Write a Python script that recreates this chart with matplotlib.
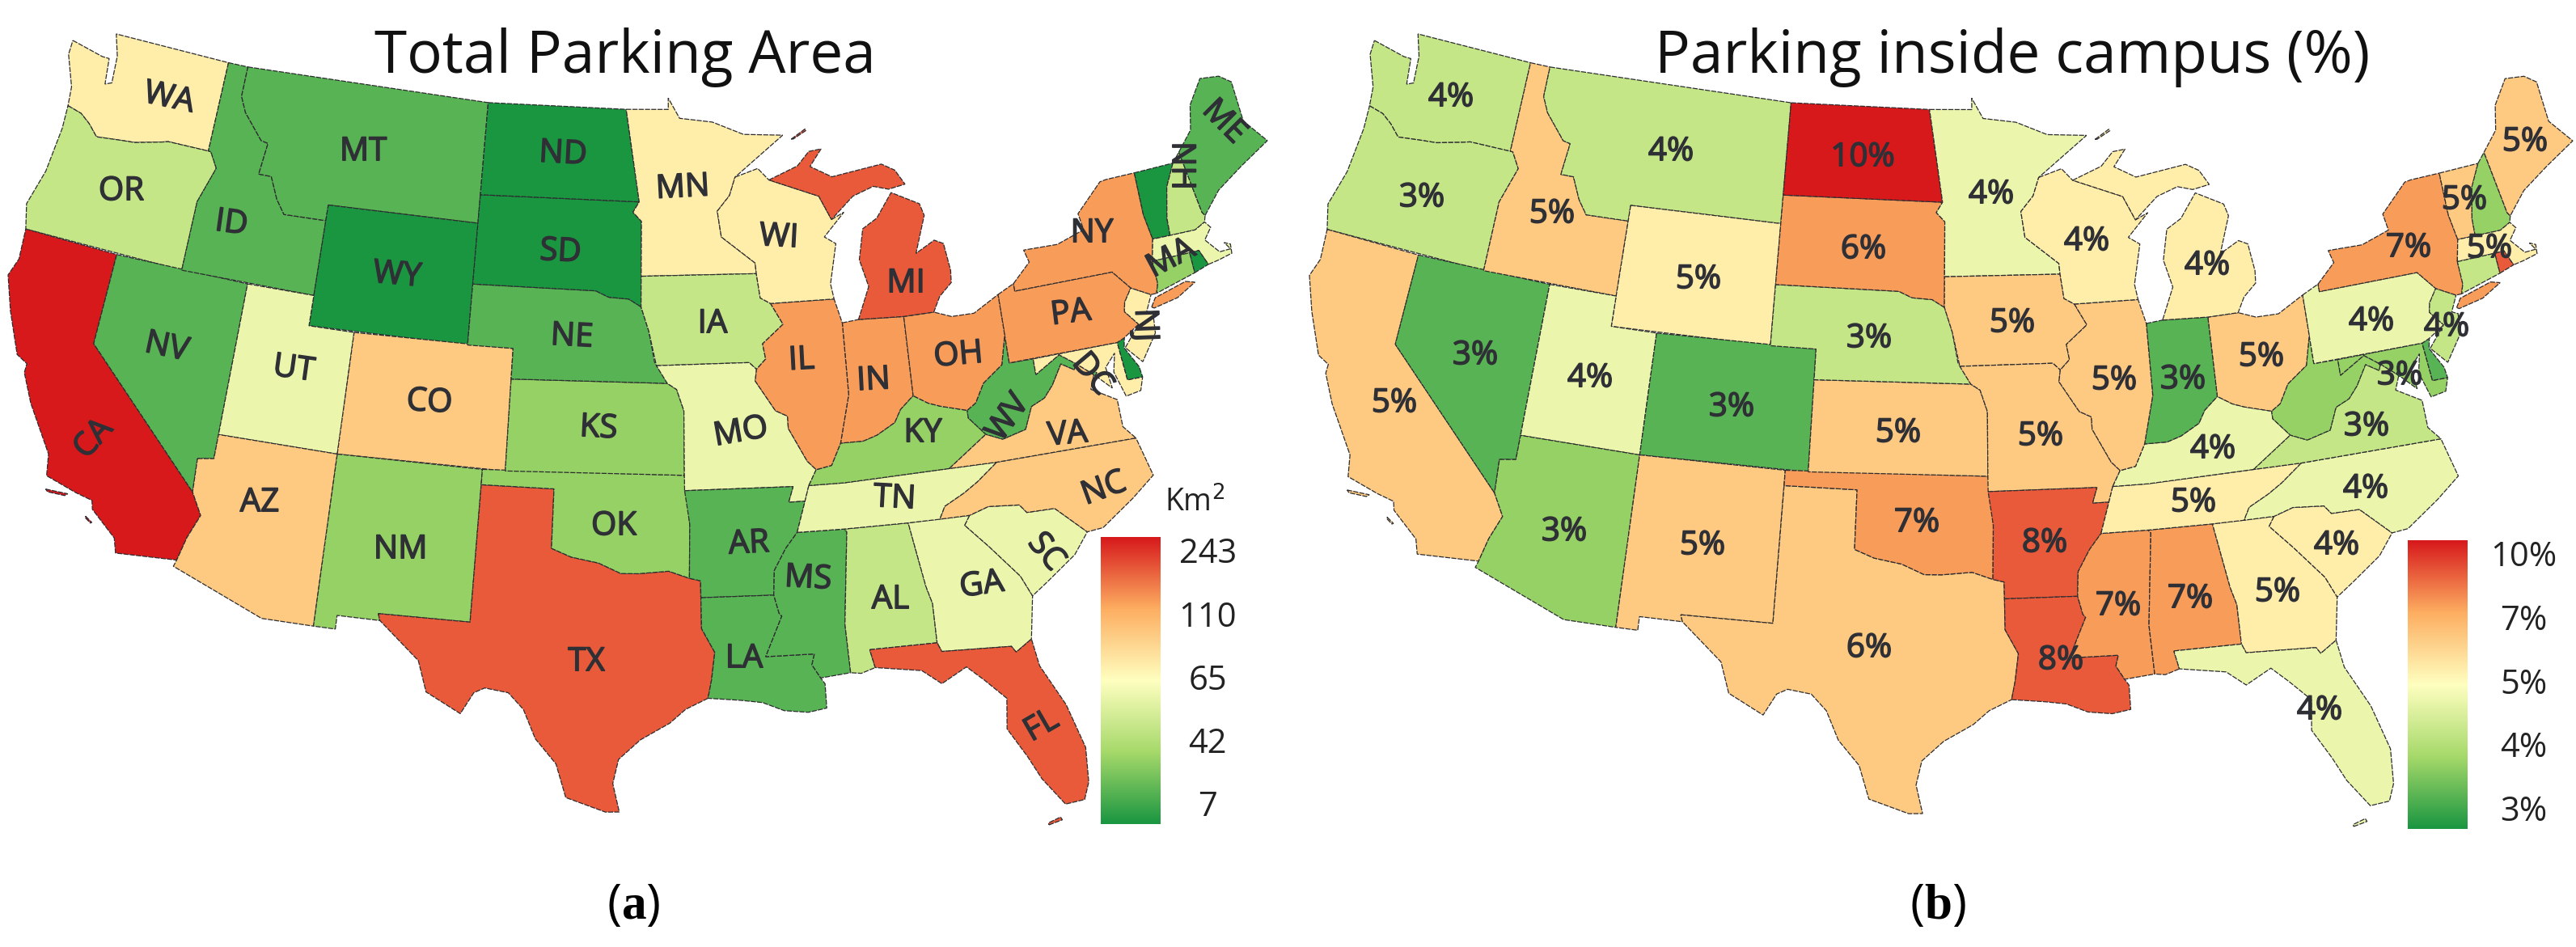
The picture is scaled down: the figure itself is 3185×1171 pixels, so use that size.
import numpy as np
import matplotlib
matplotlib.use('Agg')
import matplotlib.pyplot as plt
import matplotlib.patheffects as pe
from matplotlib.colors import LinearSegmentedColormap

plt.rcParams['font.family'] = ['Open Sans', 'DejaVu Sans']
plt.rcParams['mathtext.fontset'] = 'custom'
plt.rcParams['mathtext.rm'] = 'Liberation Serif'
plt.rcParams['mathtext.bf'] = 'Liberation Serif:bold'

W, H = 3185, 1171

# state outlines, lon/lat (simplified)
STATE_SHAPES = {
    'WA': [[(-124.7,48.38),(-123.1,48.15),(-122.75,48.15),(-122.6,47.3),(-122.3,47.4),(-122.4,48.3),(-122.75,49.0),(-117.03,49.0),(-117.04,46.0),(-118.98,46.0),(-119.3,45.93),(-120.5,45.7),(-121.2,45.65),(-122.3,45.55),(-122.8,45.9),(-123.3,46.15),(-124.0,46.27),(-124.1,46.9),(-124.7,47.9)]],
    'OR': [[(-124.0,46.27),(-123.3,46.15),(-122.8,45.9),(-122.3,45.55),(-121.2,45.65),(-120.5,45.7),(-119.3,45.93),(-118.98,46.0),(-116.92,46.0),(-116.5,45.5),(-117.03,44.3),(-117.03,42.0),(-124.2,42.0),(-124.5,42.8),(-124.1,44.0),(-123.95,45.5)]],
    'CA': [[(-124.2,42.0),(-120.0,42.0),(-120.0,39.0),(-114.63,35.0),(-114.13,34.3),(-114.5,33.5),(-114.72,32.72),(-117.12,32.53),(-117.3,33.0),(-118.4,33.75),(-118.5,34.03),(-119.2,34.15),(-120.5,34.45),(-120.65,35.15),(-121.9,36.6),(-122.5,37.5),(-122.5,37.8),(-123.0,38.0),(-123.8,39.3),(-124.35,40.4),(-124.1,41.0)],
           [(-120.4,34.02),(-119.5,34.05),(-119.6,33.97),(-120.3,33.95)],
           [(-118.6,33.48),(-118.3,33.33),(-118.35,33.3),(-118.6,33.43)]],
    'NV': [[(-120.0,42.0),(-114.04,42.0),(-114.04,36.2),(-114.7,36.1),(-114.63,35.0),(-120.0,39.0)]],
    'ID': [[(-117.03,49.0),(-116.05,49.0),(-116.05,48.0),(-115.7,47.5),(-114.7,46.7),(-114.35,46.65),(-114.5,45.6),(-113.9,45.6),(-113.45,44.9),(-113.0,44.45),(-111.05,44.48),(-111.05,42.0),(-117.03,42.0),(-117.03,44.3),(-116.5,45.5),(-116.92,46.0),(-117.04,46.0)]],
    'MT': [[(-116.05,49.0),(-104.05,49.0),(-104.05,45.0),(-111.05,45.0),(-111.05,44.48),(-113.0,44.45),(-113.45,44.9),(-113.9,45.6),(-114.5,45.6),(-114.35,46.65),(-114.7,46.7),(-115.7,47.5),(-116.05,48.0)]],
    'WY': [[(-111.05,45.0),(-104.05,45.0),(-104.05,41.0),(-111.05,41.0)]],
    'UT': [[(-114.04,42.0),(-111.05,42.0),(-111.05,41.0),(-109.05,41.0),(-109.05,37.0),(-114.04,37.0)]],
    'CO': [[(-109.05,41.0),(-102.05,41.0),(-102.05,37.0),(-109.05,37.0)]],
    'AZ': [[(-114.7,36.1),(-114.04,36.2),(-114.04,37.0),(-109.05,37.0),(-109.05,31.33),(-111.07,31.33),(-114.8,32.5),(-114.72,32.72),(-114.5,33.5),(-114.13,34.3),(-114.63,35.0)]],
    'NM': [[(-109.05,37.0),(-103.0,37.0),(-103.04,32.0),(-106.62,32.0),(-106.53,31.78),(-108.2,31.78),(-108.2,31.33),(-109.05,31.33)]],
    'TX': [[(-106.62,32.0),(-103.04,32.0),(-103.0,36.5),(-100.0,36.5),(-100.0,34.56),(-99.2,34.3),(-98.1,34.13),(-97.2,33.8),(-96.5,33.8),(-95.3,33.88),(-94.48,33.64),(-94.04,33.55),(-94.04,33.0),(-94.04,31.99),(-93.55,31.2),(-93.7,30.3),(-93.85,29.7),(-94.7,29.35),(-95.3,28.9),(-96.4,28.35),(-97.2,27.7),(-97.4,26.9),(-97.15,25.96),(-97.65,25.95),(-99.1,26.4),(-99.5,27.5),(-100.3,28.3),(-100.8,29.25),(-101.4,29.77),(-102.3,29.88),(-102.7,29.7),(-103.15,28.98),(-104.5,29.6),(-104.9,30.6),(-106.53,31.78)]],
    'OK': [[(-103.0,37.0),(-94.62,37.0),(-94.43,35.4),(-94.48,33.64),(-95.3,33.88),(-96.5,33.8),(-97.2,33.8),(-98.1,34.13),(-99.2,34.3),(-100.0,34.56),(-100.0,36.5),(-103.0,36.5)]],
    'KS': [[(-102.05,40.0),(-95.3,40.0),(-94.9,39.8),(-94.6,39.1),(-94.62,37.0),(-102.05,37.0)]],
    'NE': [[(-104.05,43.0),(-98.5,43.0),(-97.9,42.8),(-97.0,42.75),(-96.45,42.5),(-96.1,41.7),(-95.85,40.7),(-95.3,40.0),(-102.05,40.0),(-102.05,41.0),(-104.05,41.0)]],
    'SD': [[(-104.05,45.94),(-96.56,45.94),(-96.85,45.6),(-96.45,45.3),(-96.45,43.5),(-96.45,42.5),(-97.0,42.75),(-97.9,42.8),(-98.5,43.0),(-104.05,43.0)]],
    'ND': [[(-104.05,49.0),(-97.23,49.0),(-96.56,45.94),(-104.05,45.94)]],
    'MN': [[(-97.23,49.0),(-95.15,49.0),(-95.15,49.38),(-94.6,48.7),(-93.0,48.55),(-91.5,48.1),(-89.6,48.0),(-92.0,46.7),(-92.3,46.1),(-92.9,45.6),(-92.75,44.75),(-91.25,43.85),(-91.22,43.5),(-96.45,43.5),(-96.45,45.3),(-96.85,45.6),(-96.56,45.94)]],
    'IA': [[(-96.45,43.5),(-91.22,43.5),(-91.1,42.7),(-90.65,42.5),(-90.15,41.8),(-91.1,41.2),(-91.0,40.7),(-91.42,40.38),(-91.73,40.61),(-95.77,40.58),(-96.1,41.7),(-96.45,42.5)]],
    'MO': [[(-95.77,40.58),(-91.73,40.61),(-91.42,40.38),(-91.5,40.0),(-90.7,39.0),(-90.2,38.8),(-90.2,38.4),(-89.5,37.3),(-89.15,37.0),(-89.5,36.5),(-89.7,36.0),(-90.37,36.0),(-90.15,36.5),(-94.62,36.5),(-94.62,37.0),(-94.6,39.1),(-94.9,39.8),(-95.3,40.0)]],
    'AR': [[(-94.62,36.5),(-90.15,36.5),(-90.37,36.0),(-89.7,36.0),(-90.1,35.0),(-90.6,34.5),(-91.1,33.8),(-91.17,33.0),(-94.04,33.0),(-94.04,33.55),(-94.48,33.64),(-94.43,35.4)]],
    'LA': [[(-94.04,33.0),(-91.17,33.0),(-91.0,32.4),(-90.9,32.3),(-91.6,31.0),(-89.73,31.0),(-89.85,30.65),(-89.55,30.2),(-89.4,30.0),(-89.4,29.2),(-90.1,29.1),(-91.0,29.2),(-91.8,29.5),(-92.6,29.6),(-93.85,29.7),(-93.7,30.3),(-93.55,31.2),(-94.04,31.99)]],
    'MS': [[(-90.1,35.0),(-88.2,35.0),(-88.1,34.9),(-88.47,31.9),(-88.4,30.3),(-89.55,30.2),(-89.85,30.65),(-89.73,31.0),(-91.6,31.0),(-90.9,32.3),(-91.0,32.4),(-91.17,33.0),(-91.1,33.8),(-90.6,34.5)]],
    'AL': [[(-88.2,35.0),(-85.6,35.0),(-85.18,32.87),(-85.0,32.3),(-85.0,31.0),(-87.6,31.0),(-87.45,30.4),(-88.0,30.25),(-88.4,30.3),(-88.47,31.9),(-88.1,34.9)]],
    'GA': [[(-85.6,35.0),(-83.1,35.0),(-83.35,34.7),(-82.5,33.9),(-81.45,32.8),(-81.1,32.1),(-81.4,30.71),(-82.05,30.36),(-82.2,30.57),(-84.86,30.7),(-85.0,31.0),(-85.0,32.3),(-85.18,32.87)]],
    'FL': [[(-87.6,31.0),(-85.0,31.0),(-84.86,30.7),(-82.2,30.57),(-82.05,30.36),(-81.4,30.71),(-81.25,29.8),(-80.5,28.4),(-80.05,26.9),(-80.15,25.75),(-80.4,25.2),(-81.1,25.15),(-81.8,26.1),(-82.2,26.9),(-82.8,27.9),(-82.65,28.9),(-83.4,29.6),(-84.0,30.1),(-85.0,29.65),(-85.7,30.15),(-87.45,30.4)],
           [(-81.8,24.55),(-81.3,24.65),(-81.35,24.75),(-81.8,24.62)]],
    'SC': [[(-83.35,34.7),(-83.1,35.0),(-82.3,35.2),(-81.05,35.1),(-80.8,34.82),(-79.67,34.8),(-78.55,33.86),(-79.2,33.2),(-80.4,32.5),(-81.1,32.1),(-81.45,32.8),(-82.5,33.9)]],
    'NC': [[(-84.32,35.0),(-84.05,35.4),(-83.2,35.75),(-82.6,36.05),(-81.7,36.59),(-75.87,36.55),(-75.5,35.25),(-76.5,34.65),(-77.9,33.9),(-78.55,33.86),(-79.67,34.8),(-80.8,34.82),(-81.05,35.1),(-82.3,35.2),(-83.1,35.0)]],
    'TN': [[(-90.1,35.0),(-89.7,36.0),(-89.5,36.5),(-88.05,36.5),(-83.67,36.6),(-81.7,36.59),(-82.6,36.05),(-83.2,35.75),(-84.05,35.4),(-84.32,35.0),(-85.6,35.0),(-88.2,35.0)]],
    'KY': [[(-89.5,36.5),(-89.15,37.0),(-88.5,37.1),(-88.05,37.8),(-87.1,37.8),(-86.5,37.95),(-85.7,38.3),(-85.4,38.7),(-84.8,39.1),(-84.2,38.8),(-83.7,38.65),(-82.6,38.4),(-82.6,38.15),(-81.97,37.54),(-83.67,36.6),(-88.05,36.5)]],
    'VA': [[(-83.67,36.6),(-81.97,37.54),(-81.3,37.3),(-80.3,37.5),(-79.9,38.2),(-79.3,38.4),(-78.87,38.77),(-78.35,39.4),(-77.83,39.13),(-77.72,39.32),(-77.05,38.85),(-77.3,38.4),(-76.3,37.9),(-76.3,37.0),(-75.87,36.55),(-81.7,36.59)]],
    'WV': [[(-82.6,38.4),(-82.2,38.6),(-81.75,39.2),(-80.85,39.7),(-80.52,40.64),(-80.52,39.72),(-79.48,39.72),(-79.48,39.2),(-78.35,39.7),(-77.72,39.32),(-77.83,39.13),(-78.35,39.4),(-78.87,38.77),(-79.3,38.4),(-79.9,38.2),(-80.3,37.5),(-81.3,37.3),(-81.97,37.54),(-82.6,38.15)]],
    'MD': [[(-79.48,39.72),(-75.79,39.72),(-75.7,38.46),(-75.05,38.45),(-75.25,38.03),(-75.9,37.95),(-76.2,38.8),(-76.0,39.4),(-76.5,39.0),(-76.4,38.3),(-77.05,38.85),(-77.72,39.32),(-78.35,39.7),(-79.48,39.2)]],
    'DE': [[(-75.79,39.72),(-75.45,39.82),(-75.55,39.5),(-75.1,38.8),(-75.05,38.45),(-75.7,38.46)]],
    'DC': [[(-77.12,38.93),(-77.04,39.0),(-76.91,38.89),(-77.04,38.79)]],
    'PA': [[(-80.52,41.98),(-79.76,42.25),(-79.76,42.0),(-75.35,42.0),(-74.7,41.36),(-75.1,40.95),(-75.2,40.65),(-74.72,40.15),(-75.45,39.82),(-75.79,39.72),(-80.52,39.72)]],
    'NJ': [[(-74.7,41.36),(-73.9,41.0),(-74.25,40.5),(-74.0,40.4),(-74.1,39.75),(-74.9,38.93),(-75.5,39.5),(-74.72,40.15),(-75.2,40.65),(-75.1,40.95)]],
    'NY': [[(-79.76,42.25),(-78.9,42.85),(-79.05,43.27),(-77.5,43.25),(-76.2,43.55),(-76.3,44.1),(-75.0,44.97),(-74.7,45.0),(-73.35,45.0),(-73.4,43.6),(-73.25,42.75),(-73.5,42.05),(-73.5,41.3),(-73.65,41.0),(-73.9,41.0),(-74.7,41.36),(-75.35,42.0),(-79.76,42.0)],
           [(-74.0,40.6),(-73.75,40.87),(-72.3,41.15),(-71.9,41.05),(-72.8,40.7),(-73.9,40.55)]],
    'OH': [[(-84.8,41.7),(-83.45,41.72),(-82.7,41.5),(-81.7,41.5),(-80.52,41.98),(-80.52,40.64),(-80.85,39.7),(-81.75,39.2),(-82.2,38.6),(-82.6,38.4),(-83.7,38.65),(-84.2,38.8),(-84.8,39.1)]],
    'IN': [[(-87.53,41.7),(-86.8,41.76),(-84.8,41.7),(-84.8,39.1),(-85.4,38.7),(-85.7,38.3),(-86.5,37.95),(-87.1,37.8),(-88.05,37.8),(-87.53,39.35)]],
    'IL': [[(-90.65,42.5),(-87.8,42.5),(-87.53,41.7),(-87.53,39.35),(-88.05,37.8),(-88.5,37.1),(-89.15,37.0),(-89.5,37.3),(-90.2,38.4),(-90.2,38.8),(-90.7,39.0),(-91.5,40.0),(-91.42,40.38),(-91.0,40.7),(-91.1,41.2),(-90.15,41.8)]],
    'WI': [[(-92.0,46.7),(-90.9,46.95),(-90.4,46.55),(-88.1,45.9),(-87.6,45.1),(-87.0,45.3),(-88.0,44.55),(-87.5,44.3),(-87.9,43.0),(-87.8,42.5),(-90.65,42.5),(-91.1,42.7),(-91.22,43.5),(-91.25,43.85),(-92.75,44.75),(-92.9,45.6),(-92.3,46.1)]],
    'MI': [[(-86.8,41.76),(-84.8,41.7),(-83.45,41.72),(-83.1,42.2),(-82.5,42.6),(-82.45,43.0),(-82.6,43.9),(-83.0,44.05),(-83.9,43.7),(-83.3,44.9),(-83.45,45.3),(-84.7,45.78),(-85.5,45.0),(-86.2,44.7),(-86.5,43.7),(-86.2,42.8)],
           [(-90.4,46.55),(-89.0,46.95),(-88.4,47.4),(-87.8,47.45),(-88.4,46.9),(-87.4,46.5),(-85.0,46.75),(-84.4,46.5),(-84.0,46.0),(-84.8,45.9),(-85.5,46.05),(-86.5,45.8),(-87.6,45.1),(-88.1,45.9)],
           [(-89.2,47.85),(-88.5,48.15),(-88.45,48.1),(-89.1,47.85)]],
    'VT': [[(-73.35,45.0),(-71.5,45.0),(-72.05,44.3),(-72.4,43.3),(-72.45,42.73),(-73.25,42.75),(-73.4,43.6)]],
    'NH': [[(-71.5,45.0),(-71.1,45.3),(-70.8,43.2),(-70.7,43.07),(-70.8,42.87),(-71.3,42.7),(-72.45,42.73),(-72.4,43.3),(-72.05,44.3)]],
    'ME': [[(-71.1,45.3),(-70.3,45.9),(-70.0,46.7),(-69.2,47.45),(-68.3,47.35),(-67.8,47.05),(-67.8,45.7),(-67.0,44.85),(-68.5,44.3),(-69.8,43.75),(-70.7,43.07),(-70.8,43.2)]],
    'MA': [[(-73.5,42.05),(-73.25,42.75),(-72.45,42.73),(-71.3,42.7),(-70.8,42.87),(-70.6,42.65),(-71.0,42.3),(-70.5,41.8),(-70.0,41.8),(-70.2,42.05),(-69.95,41.95),(-70.0,41.65),(-70.65,41.55),(-71.13,41.5),(-71.38,42.02),(-71.8,42.02)]],
    'CT': [[(-73.5,42.05),(-71.8,42.02),(-71.8,41.35),(-73.65,41.0),(-73.5,41.3)]],
    'RI': [[(-71.8,42.02),(-71.38,42.02),(-71.13,41.5),(-71.8,41.35)]],
}

# values per state
AREA_KM2 = {'ND':9,'SD':11,'WY':10,'VT':7,'DE':12,'RI':14,
            'MT':27,'ID':24,'NV':30,'NE':31,'AR':29,'LA':32,'MS':30,'ME':23,'WV':22,'DC':21,
            'KS':38,'NM':36,'OK':40,'KY':39,'CT':35,
            'OR':47,'IA':48,'AL':49,'NH':44,
            'UT':56,'MO':58,'TN':60,'GA':59,'SC':54,'MA':57,
            'WA':68,'MN':72,'WI':66,'NJ':70,'MD':64,
            'CO':90,'AZ':85,'VA':95,'NC':100,
            'NY':120,'PA':125,'OH':135,'IN':115,'IL':130,
            'TX':180,'FL':170,'MI':160,
            'CA':243}
AREA_BREAKS = [7, 20, 33, 42, 52, 62, 80, 110, 140, 200, 244]
AREA_TICKS = ['7', '42', '65', '110', '243']

INSIDE_PCT = {'DC':2.7,
              'NV':3.1,'CO':3.0,'IN':3.1,'DE':3.0,
              'AZ':3.3,'NH':3.3,'WV':3.3,'MD':3.3,
              'WA':3.6,'OR':3.45,'MT':3.6,'NE':3.45,'VA':3.45,'CT':3.5,'NJ':3.6,
              'MN':4.0,'UT':3.9,'KY':4.0,'PA':4.1,'NC':4.0,'FL':3.9,
              'WY':4.6,'TN':4.6,'WI':4.4,'MI':4.4,'GA':4.7,'SC':4.4,'MA':4.7,
              'CA':5.1,'ID':5.0,'NM':5.2,'TX':5.55,'KS':5.2,'IA':5.1,'MO':5.3,'IL':5.2,'OH':5.1,'ME':5.0,'VT':5.0,
              'SD':6.2,'OK':6.7,'NY':6.8,'MS':7.0,'AL':6.9,
              'AR':7.9,'LA':8.1,'RI':8.2,
              'ND':10.0}
PCT_BREAKS = [2.5, 2.9, 3.2, 3.4, 3.7, 4.3, 4.8, 5.6, 7.4, 8.5, 10.1]
PCT_TICKS = ['3%', '4%', '5%', '7%', '10%']

# label places in image pixels: x, y, rotation
LABELS_A = {'WA':(209,122,-12),'OR':(150,237,0),'ID':(286,277,-8),'MT':(449,188,0),'ND':(696,191,-3),
            'SD':(693,312,-3),'WY':(491,341,-5),'NV':(206,430,-12),'UT':(363,457,-8),'CO':(531,498,-3),
            'NE':(707,417,-3),'KS':(740,530,-3),'CA':(116,543,48),'MN':(844,233,3),'WI':(963,294,-3),
            'IA':(881,401,0),'IL':(991,446,3),'MO':(916,535,10),'MI':(1120,351,0),'IN':(1080,471,3),
            'OH':(1185,440,5),'PA':(1324,388,7),'NY':(1350,289,0),'KY':(1141,536,0),'WV':(1247,517,55),
            'VA':(1320,538,5),'DC':(1350,463,-50),'NJ':(1415,402,-88),'MA':(1448,320,28),'NH':(1460,205,-90),
            'ME':(1513,151,-45),'TN':(1106,617,-3),'NC':(1365,605,20),'SC':(1293,683,-50),'GA':(1214,724,8),
            'AL':(1101,742,0),'MS':(999,716,-3),'AR':(926,673,3),'LA':(920,815,0),'FL':(1288,898,30),
            'AZ':(321,622,0),'NM':(495,680,0),'OK':(759,651,0),'TX':(725,819,0)}
LABELS_B = {'WA':(1794,121,0),'OR':(1758,245,0),'ID':(1919,265,0),'MT':(2066,188,0),'ND':(2303,195,0),
            'SD':(2304,309,0),'WY':(2100,346,0),'NE':(2311,419,0),'NV':(1824,440,0),'UT':(1966,468,0),
            'CO':(2141,504,0),'KS':(2347,536,0),'CA':(1724,499,0),'MN':(2462,241,0),'WI':(2580,299,0),
            'MI':(2729,329,0),'IA':(2488,400,0),'IL':(2614,471,0),'IN':(2699,470,0),'OH':(2796,442,0),
            'MO':(2523,540,0),'KY':(2736,556,0),'VA':(2926,528,0),'NC':(2925,605,0),'TN':(2712,622,0),
            'SC':(2889,675,0),'GA':(2816,733,0),'AL':(2708,741,0),'MS':(2619,750,0),'AR':(2528,672,0),
            'LA':(2548,817,0),'FL':(2868,879,0),'AZ':(1934,658,0),'NM':(2105,675,0),'TX':(2311,802,0),
            'OK':(2370,647,0),'PA':(2932,398,0),'NY':(2978,307,0),'ME':(3122,176,0),'VT':(3047,248,0),
            'MA':(3078,308,0),'NJ':(3025,405,0),'MD':(2967,465,0)}

ramp = LinearSegmentedColormap.from_list('rdylgn', ['#1a9641', '#a6d96a', '#ffffc0', '#fdae61', '#d7191c'])
TEXT_DARK = '#2f3036'


def albers(lon, lat, lat1=29.5, lat2=45.5, lon0=-96.0, lat0=37.5):
    p1, p2, p0 = np.radians(lat1), np.radians(lat2), np.radians(lat0)
    n = (np.sin(p1) + np.sin(p2)) / 2
    c = np.cos(p1) ** 2 + 2 * n * np.sin(p1)
    rho0 = np.sqrt(c - 2 * n * np.sin(p0)) / n
    rho = np.sqrt(c - 2 * n * np.sin(np.radians(lat))) / n
    th = n * np.radians(lon - lon0)
    return rho * np.sin(th), rho0 - rho * np.cos(th)


projected = {s: [albers(*np.array(r).T) for r in rings] for s, rings in STATE_SHAPES.items()}
all_x = np.concatenate([r[0] for rings in projected.values() for r in rings])
all_y = np.concatenate([r[1] for rings in projected.values() for r in rings])


def px_axes(fig, left, top, right, bottom):
    return fig.add_axes([left / W, 1 - bottom / H, (right - left) / W, (bottom - top) / H])


def draw_panel(fig, box, values, breaks, labels, label_text, title, title_x, bar, ticks, tick_pad):
    ax = px_axes(fig, *box)
    for s, rings in projected.items():
        cls = np.clip(np.digitize(values[s], breaks) - 1, 0, 9)
        for xs, ys in rings:
            ax.fill(xs, ys, facecolor=ramp(cls / 9), edgecolor='#2c2c30', linewidth=0.9,
                    linestyle=(0, (5, 1.2)), clip_on=False)
    ax.set_xlim(all_x.min(), all_x.max())
    ax.set_ylim(all_y.min(), all_y.max())
    ax.axis('off')

    # the font has only one weight installed, so thicken the labels with a stroke
    heavy = [pe.withStroke(linewidth=1.1, foreground=TEXT_DARK)]
    for s, (x, y, rot) in labels.items():
        fig.text(x / W, 1 - y / H, label_text(s), fontsize=29, color=TEXT_DARK,
                 rotation=rot, rotation_mode='anchor', ha='center', va='center', path_effects=heavy)

    fig.text(title_x / W, 1 - 90 / H, title, fontsize=52.5, color='#111111', ha='center', va='baseline')

    cax = px_axes(fig, *bar)
    cax.imshow(np.linspace(1, 0, 256).reshape(-1, 1), cmap=ramp, aspect='auto', extent=[0, 1, 0, 1], vmin=0, vmax=1)
    cax.set_xticks([])
    cax.yaxis.tick_right()
    cax.set_yticks(np.linspace(0.073, 0.954, 5))
    cax.set_yticklabels(ticks, fontsize=30, color='#222222', ha='center')
    cax.tick_params(axis='y', length=0, pad=tick_pad)
    for sp in cax.spines.values():
        sp.set_visible(False)


fig = plt.figure(figsize=(W / 100, H / 100), dpi=100)

draw_panel(fig, (10, 42, 1567, 1020), AREA_KM2, AREA_BREAKS, LABELS_A, lambda s: s,
           'Total Parking Area', 773, (1361, 664, 1435, 1019), AREA_TICKS, 42)
draw_panel(fig, (1619, 42, 3181, 1022), INSIDE_PCT, PCT_BREAKS, LABELS_B, lambda s: f'{INSIDE_PCT[s]:.0f}%',
           'Parking inside campus (%)', 2488, (2977, 668, 3051, 1025), PCT_TICKS, 50)

fig.text(1477 / W, 1 - 622 / H, 'Km$^{2}$', fontsize=27, color='#222222', ha='center', va='center', math_fontfamily='dejavusans')

fig.text(783 / W, 1 - 1120 / H, r'($\mathbf{a}$)', fontsize=44, color='black', ha='center', va='center')
fig.text(2396 / W, 1 - 1120 / H, r'($\mathbf{b}$)', fontsize=44, color='black', ha='center', va='center')

fig.savefig('out.png', dpi=100)
plt.close(fig)
